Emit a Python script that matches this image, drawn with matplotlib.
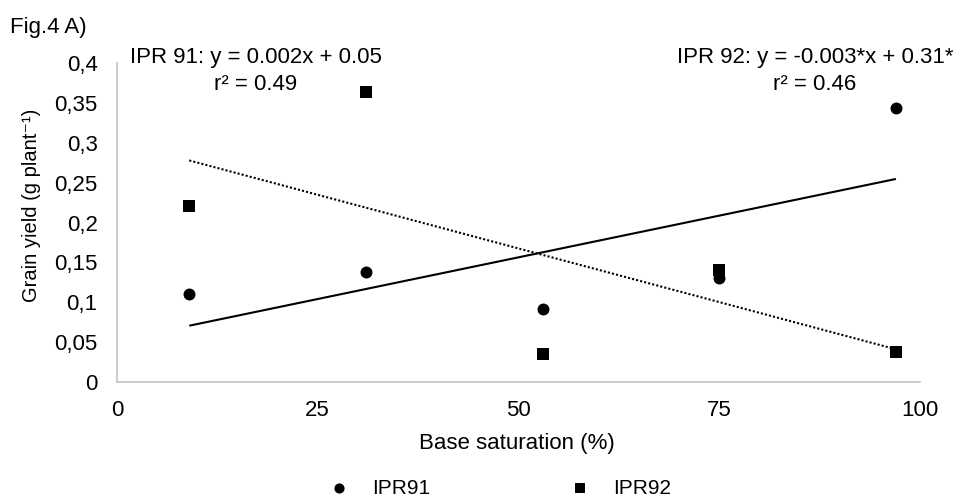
import numpy as np
import matplotlib
matplotlib.use("Agg")
import matplotlib.pyplot as plt
from matplotlib.ticker import FuncFormatter

plt.rcParams['font.family'] = ['Liberation Sans', 'DejaVu Sans']

base_saturation = [9, 31, 53, 75, 97]
ipr91 = [0.110, 0.138, 0.091, 0.130, 0.344]
ipr92 = [0.221, 0.364, 0.035, 0.140, 0.037]
x_ticks = [0, 25, 50, 75, 100]
y_ticks = [0, 0.05, 0.1, 0.15, 0.2, 0.25, 0.3, 0.35, 0.4]

W, H = 959, 496
fig = plt.figure(figsize=(W / 100, H / 100), dpi=100)
ax = fig.add_axes([117 / W, 1 - 382 / H, 803 / W, 319 / H])

x = np.array(base_saturation, dtype=float)
ax.scatter(x, ipr91, marker='o', s=74, color='black', zorder=3, label='IPR91', linewidths=0)
ax.scatter(x, ipr92, marker='s', s=68, color='black', zorder=3, label='IPR92', linewidths=0)

p1 = np.polyfit(x, ipr91, 1)
p2 = np.polyfit(x, ipr92, 1)
xl = np.array([x.min(), x.max()])
ax.plot(xl, np.polyval(p1, xl), color='black', lw=1.5, solid_capstyle='butt')
ax.plot(xl, np.polyval(p2, xl), color='black', lw=1.5, linestyle=(0, (1, 1)))

ax.set_xlim(0, 100)
ax.set_ylim(0, 0.4)
ax.set_xticks(x_ticks)
ax.set_yticks(y_ticks)
ax.yaxis.set_major_formatter(FuncFormatter(lambda v, p: ('%g' % round(v, 2)).replace('.', ',')))
ax.tick_params(length=0, labelsize=16)
ax.tick_params(axis='y', pad=14)
ax.tick_params(axis='x', pad=13)
for s in ['top', 'right']:
    ax.spines[s].set_visible(False)
for s in ['left', 'bottom']:
    ax.spines[s].set_color('#c8c8c8')
    ax.spines[s].set_linewidth(1.3)

ax.set_xlabel('Base saturation (%)', fontsize=16)
ax.xaxis.set_label_coords(517 / W, 1 - 443 / H, transform=fig.transFigure)
ax.xaxis.label.set_va('center')
ax.set_ylabel('Grain yield (g plant\u207b\u00b9)', fontsize=14.5)
ax.yaxis.set_label_coords(32 / W, 1 - 205 / H, transform=fig.transFigure)
ax.yaxis.label.set_va('center')

fig.text(10 / W, 1 - 28 / H, 'Fig.4 A)', fontsize=16, va='center', ha='left')
fig.text(256 / W, 1 - 58 / H, 'IPR 91: y = 0.002x + 0.05', fontsize=16, va='center', ha='center')
fig.text(256 / W, 1 - 85 / H, 'r² = 0.49', fontsize=16, va='center', ha='center')
fig.text(815 / W, 1 - 58 / H, 'IPR 92: y = -0.003*x + 0.31*', fontsize=16, va='center', ha='center')
fig.text(815 / W, 1 - 85 / H, 'r² = 0.46', fontsize=16, va='center', ha='center')

fig.legend(loc='center', bbox_to_anchor=(500 / W, 1 - 488 / H), ncol=2, frameon=False,
           fontsize=15, columnspacing=6.7, handletextpad=1.1, handlelength=1,
           markerscale=0.85, borderaxespad=0, borderpad=0)

fig.savefig('out.png', dpi=100)
